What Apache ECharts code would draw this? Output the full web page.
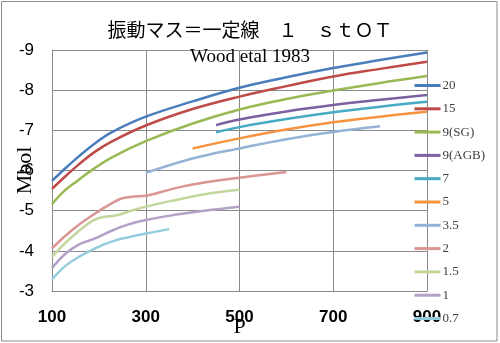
<!DOCTYPE html>
<html>
<head>
<meta charset="utf-8">
<script src="https://cdn.jsdelivr.net/npm/echarts@6/dist/echarts.min.js"></script>
<style>
html,body{margin:0;padding:0;background:#fff;}
#c{width:500px;height:343px;}
</style>
</head>
<body>
<div id="c"></div>
<script>
const titleText = '振動マス＝一定線　１　ｓｔＯＴ';
const subText = 'Wood etal 1983';
const xTicks = [100, 300, 500, 700, 900];
const yTicks = [-9, -8, -7, -6, -5, -4, -3];
const names = ['20', '15', '9(SG)', '9(AGB)', '7', '5', '3.5', '2', '1.5', '1', '0.7'];
const colors = ['#4A7EBB', '#BE4B48', '#98B954', '#7D60A0', '#46AAC5', '#F69240', '#95B3D7', '#D99694', '#C3D69B', '#B3A2C7', '#93CDDD'];

const p20 = [100, 128, 156, 192, 227, 300, 400, 500, 600, 700, 800, 900];
const m20 = [-5.74, -6.05, -6.34, -6.68, -6.95, -7.34, -7.72, -8.06, -8.32, -8.55, -8.75, -8.94];
const p15 = [100, 128, 156, 192, 227, 300, 400, 500, 600, 700, 800, 900];
const m15 = [-5.54, -5.85, -6.14, -6.47, -6.72, -7.12, -7.53, -7.84, -8.10, -8.34, -8.53, -8.71];
const p9sg = [100, 128, 156, 185, 227, 300, 400, 500, 600, 700, 800, 900];
const m9sg = [-5.16, -5.51, -5.76, -6.01, -6.32, -6.73, -7.17, -7.52, -7.78, -7.99, -8.18, -8.35];
const p9agb = [450, 500, 600, 700, 800, 900];
const m9agb = [-7.13, -7.27, -7.47, -7.63, -7.76, -7.88];
const p7 = [450, 500, 600, 700, 800, 900];
const m7 = [-6.95, -7.08, -7.28, -7.45, -7.59, -7.71];
const p5 = [400, 500, 600, 700, 800, 900];
const m5 = [-6.55, -6.80, -7.02, -7.20, -7.34, -7.46];
const p35 = [300, 400, 500, 600, 700, 800];
const m35 = [-5.94, -6.30, -6.55, -6.78, -6.96, -7.10];
const p2 = [100, 128, 156, 192, 227, 250, 275, 300, 335, 370, 425, 500, 600];
const m2 = [-4.06, -4.37, -4.64, -4.93, -5.18, -5.31, -5.35, -5.37, -5.47, -5.58, -5.70, -5.82, -5.96];
const p15b = [100, 128, 156, 185, 205, 240, 270, 300, 370, 425, 500];
const m15b = [-3.85, -4.19, -4.48, -4.74, -4.83, -4.89, -5.00, -5.10, -5.28, -5.41, -5.52];
const p1 = [100, 128, 156, 192, 227, 263, 300, 370, 425, 500];
const m1 = [-3.57, -3.92, -4.15, -4.31, -4.50, -4.66, -4.77, -4.91, -5.00, -5.10];
const p07 = [100, 128, 156, 192, 227, 263, 300, 350];
const m07 = [-3.29, -3.62, -3.84, -4.06, -4.23, -4.34, -4.43, -4.54];

const xs = [p20, p15, p9sg, p9agb, p7, p5, p35, p2, p15b, p1, p07];
const ys = [m20, m15, m9sg, m9agb, m7, m5, m35, m2, m15b, m1, m07];
const xOff = xTicks[0];

const series = names.map((n, i) => ({
  name: n,
  type: 'line',
  smooth: 0.4,
  symbol: 'none',
  data: xs[i].map((p, k) => [p - xOff, ys[i][k]]),
  lineStyle: { color: colors[i], width: 2.5 },
  itemStyle: { color: colors[i] },
  z: 20 - i
}));

const chart = echarts.init(document.getElementById('c'), null, { renderer: 'canvas' });
chart.setOption({
  animation: false,
  backgroundColor: '#fff',
  title: [
    { text: titleText, left: 'center', top: 20, padding: [0, 26, 0, 0],
      textStyle: { fontFamily: 'Noto Sans CJK JP', fontSize: 19, fontWeight: 'normal', color: '#000' } },
    { text: subText, left: 'center', top: 48, padding: [0, 30, 0, 0],
      textStyle: { fontFamily: 'Liberation Serif', fontSize: 19, fontWeight: 'normal', color: '#000' } }
  ],
  graphic: [
    { type: 'rect', shape: { x: 1.5, y: 1.5, width: 495.5, height: 339.5 },
      style: { fill: 'none', stroke: '#8a8a8a', lineWidth: 1 }, silent: true }
  ],
  legend: {
    orient: 'vertical',
    left: 413,
    top: 79,
    itemWidth: 26,
    itemHeight: 14,
    itemGap: 10.3,
    padding: 0,
    data: names,
    itemStyle: { opacity: 0 },
    lineStyle: { width: 3 },
    textStyle: { fontFamily: 'Liberation Serif', fontSize: 13, color: '#404040', padding: [0, 0, 0, -3] }
  },
  grid: { left: 52, right: 73, top: 50, bottom: 52, containLabel: false, outerBoundsMode: 'none' },
  xAxis: {
    type: 'value',
    min: 0,
    max: xTicks[xTicks.length - 1] - xOff,
    interval: xTicks[1] - xTicks[0],
    name: 'P',
    nameLocation: 'middle',
    nameGap: 25,
    nameMoveOverlap: false,
    nameTextStyle: { fontFamily: 'Liberation Serif', fontSize: 22, color: '#000' },
    axisLine: { show: true, lineStyle: { color: '#8a8a8a', width: 1 } },
    axisTick: { show: false },
    axisLabel: { formatter: v => String(v + xOff), margin: 18, fontFamily: 'Liberation Sans', fontWeight: 'bold', fontSize: 17, color: '#000' },
    splitLine: { show: true, lineStyle: { color: '#8a8a8a', width: 1 } }
  },
  yAxis: {
    type: 'value',
    inverse: true,
    min: yTicks[0],
    max: yTicks[yTicks.length - 1],
    interval: 1,
    name: 'Mbol',
    nameLocation: 'middle',
    nameGap: 16,
    nameRotate: 90,
    nameMoveOverlap: false,
    nameTextStyle: { fontFamily: 'Liberation Serif', fontSize: 22, color: '#000' },
    axisLine: { show: true, lineStyle: { color: '#8a8a8a', width: 1 } },
    axisTick: { show: false },
    axisLabel: { margin: 18, fontFamily: 'Liberation Sans', fontSize: 17, color: '#000' },
    splitLine: { show: true, lineStyle: { color: '#8a8a8a', width: 1 } }
  },
  series: series
});
</script>
</body>
</html>
